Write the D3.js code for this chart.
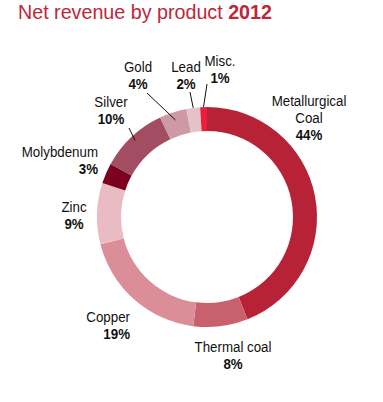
<!DOCTYPE html>
<html>
<head>
<meta charset="utf-8">
<script src="https://cdn.jsdelivr.net/npm/d3@7"></script>
<style>
  html, body { margin: 0; padding: 0; background: #fff; }
  svg { display: block; }
  .lbl { font-family: "Liberation Sans", Arial, sans-serif; font-size: 15.5px; fill: #111; }
  .pct { font-weight: bold; }
</style>
</head>
<body>
<svg id="chart" width="383" height="402"></svg>
<script>
// ---- Data ----
const products = ["Metallurgical Coal", "Thermal coal", "Copper", "Zinc", "Molybdenum", "Silver", "Gold", "Lead", "Misc."];
const shares   = [44, 8, 19, 9, 3, 10, 4, 2, 1];
const colors   = ["#b82236", "#c9606e", "#db8e97", "#e9bcc3", "#7c0020", "#a24d61", "#cc99a4", "#e5c2c8", "#e8203c"];
const labelLines = [["Metallurgical", "Coal"], ["Thermal coal"], ["Copper"], ["Zinc"], ["Molybdenum"], ["Silver"], ["Gold"], ["Lead"], ["Misc."]];
const titleText = "Net revenue by product ";
const titleYear = "2012";

// ---- Layout ----
const cx = 207, cy = 217, outerR = 110, innerR = 86;
const narrow = 0.86;
// label anchor: x, baseline y of first line, text-anchor
const labelPos = [
  {x: 309, y: 106, a: "middle"},
  {x: 233, y: 352, a: "middle"},
  {x: 130, y: 322, a: "end"},
  {x: 74,  y: 212, a: "middle"},
  {x: 98,  y: 157, a: "end"},
  {x: 111, y: 107, a: "middle"},
  {x: 138, y: 72,  a: "middle"},
  {x: 186, y: 72,  a: "middle"},
  {x: 220, y: 66,  a: "middle"}
];
// leader lines: start point and radius of end point on slice mid-angle
const leaders = {
  5: {x: 129, y: 128, r: 105},
  6: {x: 147, y: 93,  r: 102},
  7: {x: 190, y: 92,  r: 110},
  8: {x: 207, y: 84,  r: 110}
};

const svg = d3.select("#chart");

// title
const title = svg.append("text")
  .attr("x", 18).attr("y", 19)
  .style("font-family", "'Liberation Sans', Arial, sans-serif")
  .style("font-size", "19.7px")
  .attr("fill", "#c0263a");
title.append("tspan").text(titleText);
title.append("tspan").style("font-weight", "bold").text(titleYear);

const data = products.map((p, i) => ({name: p, value: shares[i], i}));
const pie = d3.pie().value(d => d.value).sort(null);
const arcs = pie(data);
const arc = d3.arc().innerRadius(innerR).outerRadius(outerR);

const g = svg.append("g").attr("transform", `translate(${cx},${cy})`);
g.selectAll("path").data(arcs).join("path")
  .attr("d", arc)
  .attr("fill", d => colors[d.data.i]);

// leader lines
arcs.forEach(d => {
  const L = leaders[d.data.i];
  if (!L) return;
  const mid = (d.startAngle + d.endAngle) / 2;
  const ex = cx + L.r * Math.sin(mid), ey = cy - L.r * Math.cos(mid);
  svg.append("line")
    .attr("x1", L.x).attr("y1", L.y).attr("x2", ex).attr("y2", ey)
    .attr("stroke", "#111").attr("stroke-width", 1);
});

// labels
data.forEach((d, i) => {
  const p = labelPos[i];
  const t = svg.append("g")
    .attr("transform", `translate(${p.x},${p.y}) scale(${narrow},1)`)
    .append("text").attr("class", "lbl").attr("text-anchor", p.a);
  const lines = labelLines[i];
  lines.forEach((ln, k) => {
    t.append("tspan").attr("x", 0).attr("y", k * 17).text(ln);
  });
  t.append("tspan").attr("class", "pct").attr("x", 0).attr("y", lines.length * 17).text(d.value + "%");
});
</script>
</body>
</html>
